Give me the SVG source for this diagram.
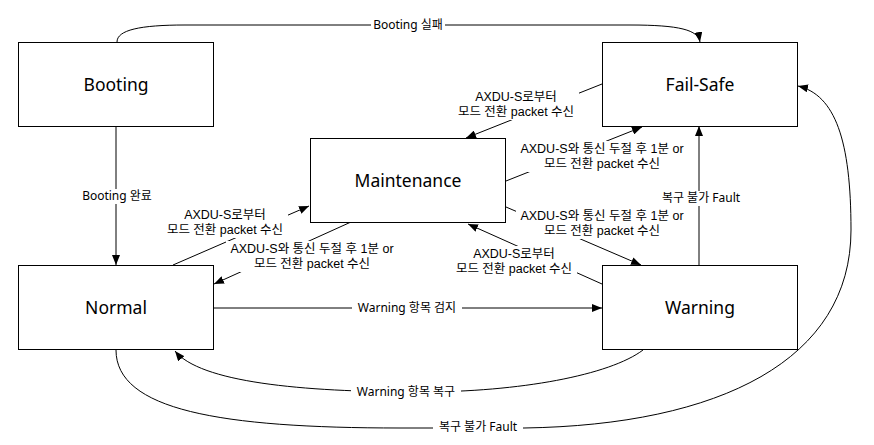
<svg xmlns="http://www.w3.org/2000/svg" width="874" height="445" viewBox="0 0 874 445">
<style>
.box{fill:#fff;stroke:#000;stroke-width:1}
.ttl{font-family:"Noto Sans","Noto Sans CJK KR",sans-serif;font-size:17.5px;fill:#000;text-anchor:middle}
.ln{fill:none;stroke:#000;stroke-width:1;marker-end:url(#ah)}
.lb{font-family:"Noto Sans","Noto Sans CJK KR",sans-serif;font-size:12px;fill:#000;text-anchor:middle}
.ml{font-family:"Liberation Sans","Noto Sans CJK KR",sans-serif;font-size:12.5px;fill:#000;text-anchor:middle}
.bg{fill:#fff;stroke:none}
</style>
<defs>
<marker id="ah" markerUnits="userSpaceOnUse" markerWidth="10" markerHeight="8" refX="10" refY="4" orient="auto">
<path d="M0,0 L10,4 L0,8 z" fill="#000"/>
</marker>
</defs>
<rect width="874" height="445" fill="#fff"/>
<g id="connectors">
<path class="ln" d="M117,42 C117,30 140,25 185,25 L630,25 C680,25 698,30 700,42"/>
<path class="ln" d="M116,126 L116,265"/>
<path class="ln" d="M213,308 L602,308"/>
<path class="ln" d="M643,350 C610,375 520,392 420,392 C300,392 200,382 175,351"/>
<path class="ln" d="M116,350 C116,410 220,428 400,428 L524,428 C720,425 851,360 851,230 C851,140 835,95 798,86"/>
<path class="ln" d="M699,265 L699,126"/>
<path class="ln" d="M602,84 L466,138"/>
<path class="ln" d="M506,181 L642,127"/>
<path class="ln" d="M506,207 L641,265"/>
<path class="ln" d="M602,284 L468,224"/>
<path class="ln" d="M173,265 L309,206"/>
<path class="ln" d="M351,222 L214,284"/>
</g>
<g id="labels">
<rect class="bg" x="371" y="18" width="74" height="15"/>
<text class="lb" x="408" y="29">Booting 실패</text>
<rect class="bg" x="80" y="189" width="74" height="15"/>
<text class="lb" x="117" y="200">Booting 완료</text>
<rect class="bg" x="352" y="301" width="110" height="15"/>
<text class="lb" x="407" y="312">Warning 항목 검지</text>
<rect class="bg" x="351" y="385" width="110" height="15"/>
<text class="lb" x="406" y="396">Warning 항목 복구</text>
<rect class="bg" x="433" y="420" width="90" height="15"/>
<text class="lb" x="478" y="431">복구 불가 Fault</text>
<rect class="bg" x="656" y="191" width="90" height="15"/>
<text class="lb" x="701" y="202">복구 불가 Fault</text>

<rect class="bg" x="453" y="89" width="126" height="31"/>
<text class="ml" x="516" y="101">AXDU-S로부터</text>
<text class="ml" x="516" y="116">모드 전환 packet 수신</text>

<rect class="bg" x="516" y="141" width="172" height="31"/>
<text class="ml" x="602" y="153">AXDU-S와 통신 두절 후 1분 or</text>
<text class="ml" x="602" y="168">모드 전환 packet 수신</text>

<rect class="bg" x="516" y="208" width="172" height="31"/>
<text class="ml" x="602" y="220">AXDU-S와 통신 두절 후 1분 or</text>
<text class="ml" x="602" y="235">모드 전환 packet 수신</text>

<rect class="bg" x="451" y="246" width="126" height="31"/>
<text class="ml" x="514" y="258">AXDU-S로부터</text>
<text class="ml" x="514" y="273">모드 전환 packet 수신</text>

<rect class="bg" x="163" y="208" width="125" height="30"/>
<text class="ml" x="225" y="219">AXDU-S로부터</text>
<text class="ml" x="225" y="234">모드 전환 packet 수신</text>

<rect class="bg" x="226" y="241" width="172" height="31"/>
<text class="ml" x="312" y="253">AXDU-S와 통신 두절 후 1분 or</text>
<text class="ml" x="312" y="268">모드 전환 packet 수신</text>
</g>
<g id="booting"><rect class="box" x="18.5" y="42.5" width="195" height="84"/><text class="ttl" x="116" y="91">Booting</text></g>
<g id="failsafe"><rect class="box" x="602.5" y="42.5" width="195" height="84"/><text class="ttl" x="700" y="91">Fail-Safe</text></g>
<g id="maintenance"><rect class="box" x="310.5" y="138.5" width="195" height="84"/><text class="ttl" x="408" y="187">Maintenance</text></g>
<g id="normal"><rect class="box" x="18.5" y="265.5" width="195" height="84"/><text class="ttl" x="116" y="314">Normal</text></g>
<g id="warning"><rect class="box" x="602.5" y="265.5" width="195" height="84"/><text class="ttl" x="700" y="314">Warning</text></g>
</svg>
